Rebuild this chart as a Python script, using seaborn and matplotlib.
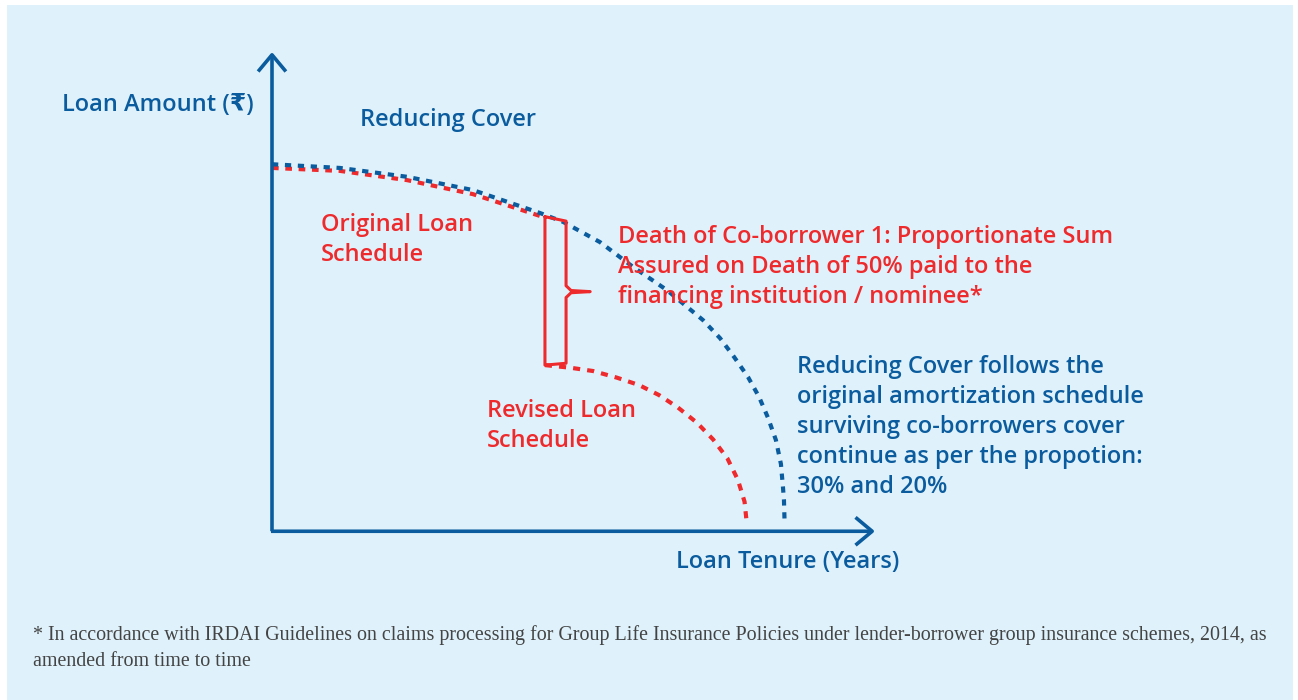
import numpy as np
import matplotlib.pyplot as plt
import seaborn as sns
from matplotlib.patches import Rectangle

# 数据（从图上读取：年份, 贷款金额）
cover_years = [0, 3.38, 6.72, 10.0, 13.33, 14.48, 16.32, 17.96, 19.65, 21.44, 22.29, 22.99, 23.68,
               24.23, 24.68, 25.07, 25.32, 25.42, 25.47, 25.50]
cover_amount = [99.6, 98.6, 96.2, 92.6, 86.4, 84.0, 78.5, 71.8, 65.5, 57.4, 52.5, 47.4, 42.0,
                36.6, 30.9, 24.9, 18.4, 12.2, 8.7, 3.0]

original_years = [0, 3.38, 6.72, 10.0, 13.33, 13.58]
original_amount = [98.6, 97.8, 95.3, 91.5, 85.6, 84.8]

revised_years = [13.58, 14.83, 15.97, 17.16, 18.26, 19.25, 20.20, 21.14, 21.94, 22.66, 23.18, 23.51, 23.63]
revised_amount = [45.2, 44.5, 43.6, 41.8, 39.8, 37.1, 33.7, 29.6, 25.1, 19.9, 14.1, 8.2, 1.9]

death_year = 13.58
amount_before = 85.0
amount_after = 45.2

x_label = 'Loan Tenure (Years)'
y_label = 'Loan Amount (₹)'
cover_title = 'Reducing Cover'
original_label = 'Original Loan\nSchedule'
revised_label = 'Revised Loan\nSchedule'
death_note = ['Death of Co-borrower 1: Proportionate Sum',
              'Assured on Death of 50% paid to the',
              'financing institution / nominee*']
cover_note = ['Reducing Cover follows the',
              'original amortization schedule',
              'surviving co-borrowers cover',
              'continue as per the propotion:',
              '30% and 20%']
footer = ['* In accordance with IRDAI Guidelines on claims processing for Group Life Insurance Policies under lender-borrower group insurance schemes, 2014, as',
          'amended from time to time']

BLUE = '#0b5c9e'
RED = '#ee2a2d'
BG = '#dff2fb'

sns.set_theme(style='white')
plt.rcParams['font.family'] = ['Open Sans', 'DejaVu Sans']

W, H = 1298, 700
fig = plt.figure(figsize=(W / 100, H / 100), dpi=100)
fig.patch.set_facecolor('white')
fig.patches.append(Rectangle((7 / W, 0), (1293 - 7) / W, (700 - 5) / H,
                             transform=fig.transFigure, facecolor=BG, edgecolor='none', zorder=-10))


def put(px, py, s, color, size, **kw):
    kw.setdefault('va', 'center')
    kw.setdefault('ha', 'left')
    fig.text(px / W, 1 - py / H, s, color=color, fontsize=size, **kw)


# 坐标轴区域（原点在 272, 532）
ax = fig.add_axes([272 / W, (H - 532) / H, (875 - 272) / W, (532 - 52) / H])
ax.set_facecolor('none')
ax.set_xlim(0, 30)
ax.set_ylim(0, 130)
ax.axis('off')

arrow = dict(arrowstyle='->,head_length=0.6,head_width=0.5', color=BLUE, lw=2.6,
             mutation_scale=20, shrinkA=0, shrinkB=0, capstyle='butt', joinstyle='round')
ax.annotate('', xy=(0, 130), xytext=(0, 0.2), arrowprops=arrow, annotation_clip=False)
ax.annotate('', xy=(30, 0.2), xytext=(-0.05, 0.2), arrowprops=arrow, annotation_clip=False)

# 曲线
sns.lineplot(x=cover_years, y=cover_amount, ax=ax, color=BLUE, linewidth=3,
             linestyle=(0, (1.5, 1.6)), zorder=3)
sns.lineplot(x=original_years, y=original_amount, ax=ax, color=RED, linewidth=3,
             linestyle=(0, (1.6, 1.6)), zorder=2)
sns.lineplot(x=revised_years, y=revised_amount, ax=ax, color=RED, linewidth=3,
             linestyle=(0, (1.7, 1.7)), zorder=2)

# 括号
right = death_year + 1.05
tip = death_year + 2.25
mid = (amount_before + amount_after) / 2
bx = [death_year, right, right, right + 0.25, tip, right + 0.25, right, right, death_year, death_year]
by = [amount_before + 0.4, amount_before - 0.8, mid + 1.6, mid + 0.3, mid, mid - 0.3, mid - 1.6,
      amount_after + 0.5, amount_after, amount_before + 0.4]
ax.plot(bx, by, color=RED, lw=2.2, solid_joinstyle='round', solid_capstyle='round', zorder=4)

# 文字
put(62, 105, y_label, BLUE, 17, weight='semibold')
put(360, 120, cover_title, BLUE, 17, weight='semibold')
put(321, 240, original_label, RED, 17, weight='semibold', linespacing=1.33)
put(487, 426, revised_label, RED, 17, weight='semibold', linespacing=1.33)
put(618, 267, '\n'.join(death_note), RED, 17, weight='semibold', linespacing=1.33)
put(797, 427, '\n'.join(cover_note), BLUE, 17, weight='semibold', linespacing=1.33)
put(676, 562, x_label, BLUE, 17, weight='semibold')

for i, line in enumerate(footer):
    fig.text(33 / W, 1 - (635 + 27 * i) / H, line, color='#444444', fontsize=14.4,
             family=['Liberation Serif', 'DejaVu Serif'], va='center', ha='left')

fig.savefig('out.png', dpi=100, facecolor=fig.get_facecolor())
